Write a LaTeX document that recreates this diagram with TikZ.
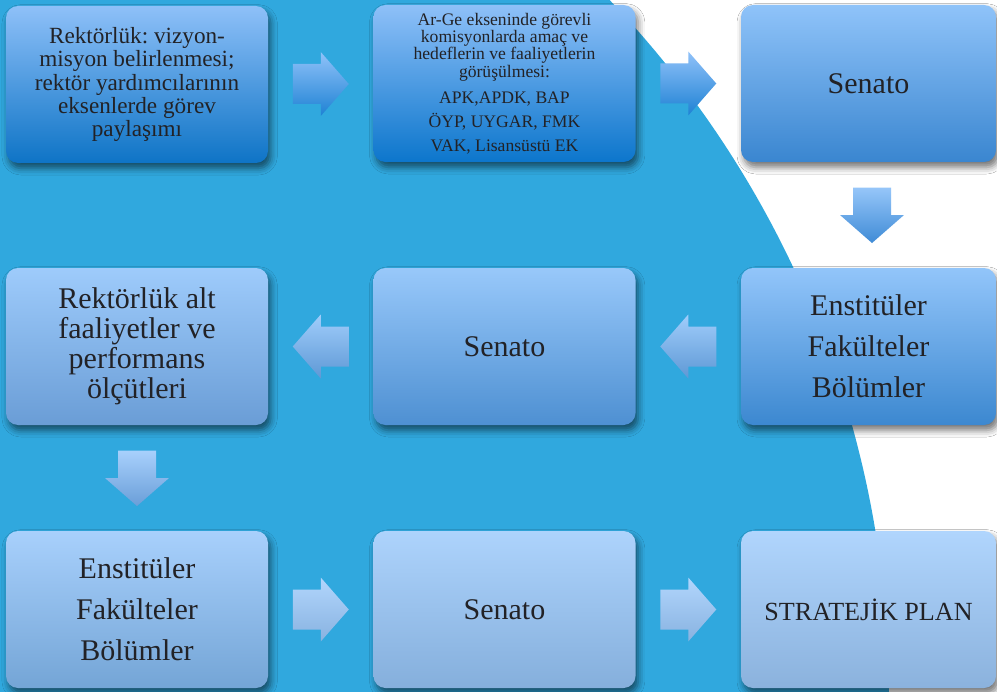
\documentclass[tikz,border=0pt]{standalone}
\usepackage{fontspec}
\setmainfont{Liberation Serif}
\usetikzlibrary{calc,shadows.blur}
\definecolor{bgblue}{RGB}{48,168,222}
\definecolor{txt}{RGB}{34,34,38}
\frenchspacing
\tikzset{
  box/.style={rounded corners=9pt, minimum width=196.5pt, minimum height=117.75pt,
    inner sep=0pt, align=center, text=txt,
    blur shadow={shadow xshift=2pt, shadow yshift=-4pt, shadow blur radius=5pt, shadow opacity=55}},
  arr/.style={blur shadow={shadow xshift=2pt, shadow yshift=-3pt, shadow blur radius=4pt, shadow opacity=45}},
  rarrow/.pic={\path[pic actions] (-28,-20) -- (0,-20) -- (0,-32) -- (28,0) -- (0,32) -- (0,20) -- (-28,20) -- cycle;},
  larrow/.pic={\path[pic actions] (28,-20) -- (0,-20) -- (0,-32) -- (-28,0) -- (0,32) -- (0,20) -- (28,20) -- cycle;},
  darrow/.pic={\path[pic actions] (-19,-27.5) -- (19,-27.5) -- (19,0) -- (32,0) -- (0,28) -- (-32,0) -- (-19,0) -- cycle;},
  fsmall/.style={font=\fontsize{13.2}{13}\selectfont},
  fmid/.style={font=\fontsize{17.4}{17.6}\selectfont},
  fbig/.style={font=\fontsize{22.5}{22.5}\selectfont},
  fwide/.style={font=\fontsize{22.5}{30.75}\selectfont},
}
\begin{document}
\begin{tikzpicture}[x=0.75pt,y=-0.75pt]
\useasboundingbox (0,0) rectangle (997,692);
\fill[white] (0,0) rectangle (997,692);
\begin{scope}
  \clip (0,0) rectangle (997,692);
  \fill[bgblue] (-120,697) circle[radius=756.75pt];
\end{scope}

% row 1
\node[box, fmid, top color={rgb,255:red,142;green,192;blue,248}, bottom color={rgb,255:red,14;green,116;blue,198}] (r1c1) at (137,84.5)
  {Rektörlük: vizyon-\\misyon belirlenmesi;\\rektör yardımcılarının\\eksenlerde görev\\paylaşımı};
\node[box, fsmall, top color={rgb,255:red,142;green,192;blue,248}, bottom color={rgb,255:red,12;green,118;blue,204}] (r1c2) at (504.5,83.5)
  {Ar-Ge ekseninde görevli\\komisyonlarda amaç ve\\hedeflerin ve faaliyetlerin\\görüşülmesi:\\[6.5pt]APK,APDK, BAP\\[5pt]ÖYP, UYGAR, FMK\\[5pt]VAK, Lisansüstü EK};
\node[box, fbig, minimum width=191.25pt, top color={rgb,255:red,143;green,195;blue,249}, bottom color={rgb,255:red,58;green,134;blue,208}] (r1c3) at (868.5,83.5)
  {Senato};

% row 2
\node[box, fbig, top color={rgb,255:red,158;green,203;blue,251}, bottom color={rgb,255:red,106;green,157;blue,214}] (r2c1) at (137,346.5)
  {Rektörlük alt\\faaliyetler ve\\performans\\ölçütleri};
\node[box, fbig, top color={rgb,255:red,152;green,200;blue,250}, bottom color={rgb,255:red,78;green,144;blue,210}] (r2c2) at (504.5,346.5)
  {Senato};
\node[box, fwide, minimum width=191.25pt, top color={rgb,255:red,146;green,197;blue,250}, bottom color={rgb,255:red,60;green,136;blue,208}] (r2c3) at (868.5,346.5)
  {Enstitüler\\Fakülteler\\Bölümler};

% row 3
\node[box, fwide, top color={rgb,255:red,168;green,208;blue,252}, bottom color={rgb,255:red,116;green,165;blue,214}] (r3c1) at (137,609.5)
  {Enstitüler\\Fakülteler\\Bölümler};
\node[box, fbig, top color={rgb,255:red,173;green,211;blue,252}, bottom color={rgb,255:red,133;green,175;blue,220}] (r3c2) at (504.5,609.5)
  {Senato};
\node[box, font=\fontsize{19.6}{19.6}\selectfont, minimum width=191.25pt, top color={rgb,255:red,176;green,213;blue,253}, bottom color={rgb,255:red,139;green,178;blue,221}] (r3c3) at (868.5,609.5)
  {STRATEJİK PLAN};

% arrows
\pic[arr, top color={rgb,255:red,144;green,194;blue,249}, bottom color={rgb,255:red,30;green,130;blue,212}] at ($(r1c1.east)!0.5!(r1c2.west)$) {rarrow};
\pic[arr, top color={rgb,255:red,144;green,194;blue,249}, bottom color={rgb,255:red,30;green,130;blue,212}] at ($(r1c2.east)!0.5!(r1c3.west)$) {rarrow};
\pic[arr, top color={rgb,255:red,150;green,198;blue,249}, bottom color={rgb,255:red,63;green,139;blue,214}] at ($(r1c3.south)!0.5!(r2c3.north)+(3.5,0)$) {darrow};
\pic[arr, top color={rgb,255:red,160;green,205;blue,251}, bottom color={rgb,255:red,94;green,152;blue,213}] at ($(r2c3.west)!0.5!(r2c2.east)$) {larrow};
\pic[arr, top color={rgb,255:red,160;green,205;blue,251}, bottom color={rgb,255:red,94;green,152;blue,213}] at ($(r2c2.west)!0.5!(r2c1.east)$) {larrow};
\pic[arr, top color={rgb,255:red,168;green,208;blue,252}, bottom color={rgb,255:red,106;green,158;blue,216}] at ($(r2c1.south)!0.5!(r3c1.north)$) {darrow};
\pic[arr, top color={rgb,255:red,178;green,214;blue,253}, bottom color={rgb,255:red,136;green,178;blue,224}] at ($(r3c1.east)!0.5!(r3c2.west)$) {rarrow};
\pic[arr, top color={rgb,255:red,178;green,214;blue,253}, bottom color={rgb,255:red,136;green,178;blue,224}] at ($(r3c2.east)!0.5!(r3c3.west)$) {rarrow};
\end{tikzpicture}
\end{document}
